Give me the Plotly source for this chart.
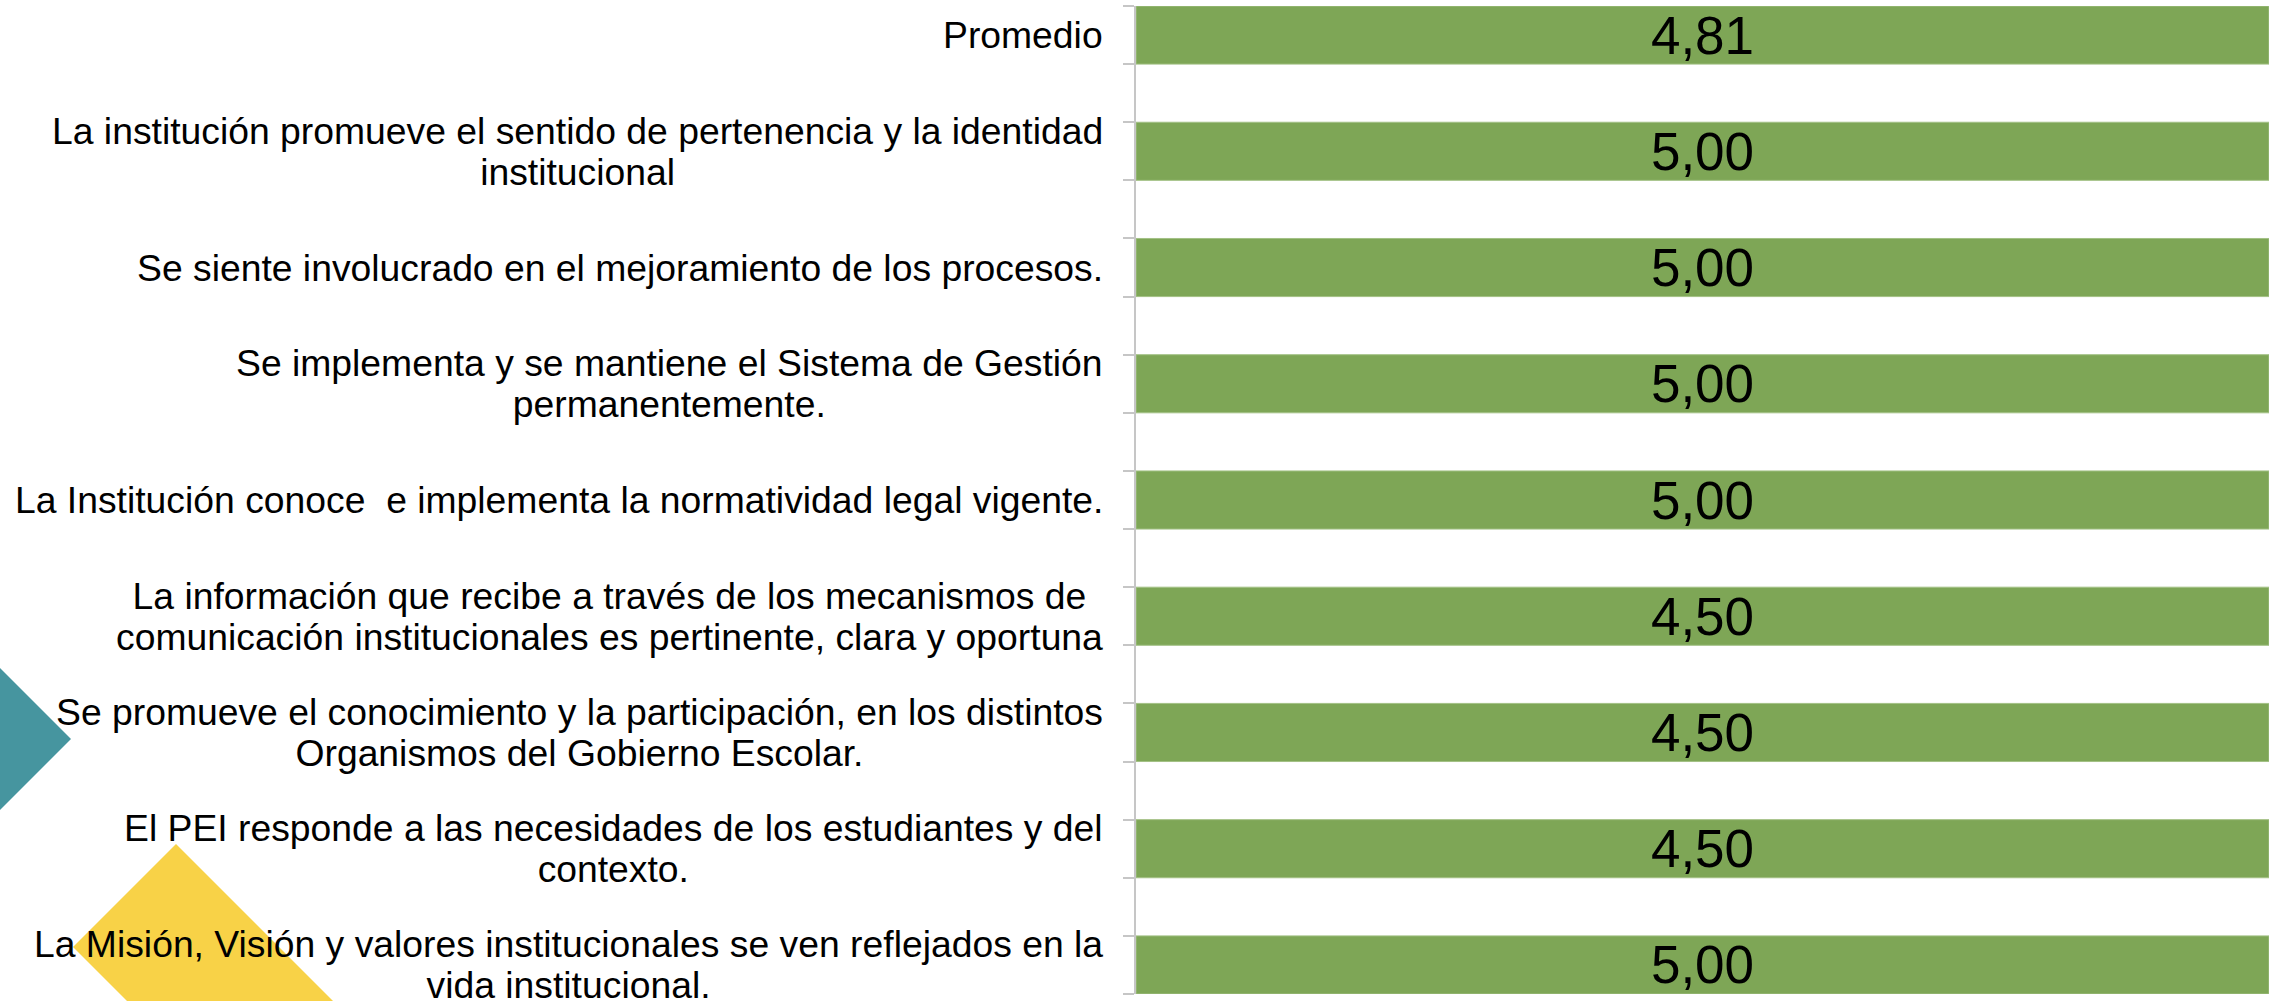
import plotly.graph_objects as go

# ---- data (top to bottom) ----
categories = [
    "Promedio",
    "La institución promueve el sentido de pertenencia y la identidad<br>institucional",
    "Se siente involucrado en el mejoramiento de los procesos.",
    "Se implementa y se mantiene el Sistema de Gestión<br>permanentemente.",
    "La Institución conoce \u00a0e implementa la normatividad legal vigente.",
    "La información que recibe a través de los mecanismos de<br>comunicación institucionales es pertinente, clara y oportuna",
    "Se promueve el conocimiento y la participación, en los distintos<br>Organismos del Gobierno Escolar.",
    "El PEI responde a las necesidades de los estudiantes y del<br>contexto.",
    "La Misión, Visión y valores institucionales se ven reflejados en la<br>vida institucional.",
]
values = [4.81, 5.00, 5.00, 5.00, 5.00, 4.50, 4.50, 4.50, 5.00]
value_labels = [f"{v:.2f}".replace(".", ",") for v in values]

positions = list(range(len(categories)))

W, H = 2280, 1001
ML, MR, MT, MB = 1136, 11, 6, 7
PW, PH = W - ML - MR, H - MT - MB

BAR_COLOR = "#7EA656"
AXIS_COLOR = "#C6C6C6"
FONT = "Liberation Sans, Arial, sans-serif"

fig = go.Figure()
fig.add_trace(go.Bar(
    y=positions,
    x=values,
    orientation="h",
    width=0.5,
    marker=dict(color=BAR_COLOR, line=dict(color="#A3C185", width=1)),
    text=value_labels,
    textposition="inside",
    insidetextanchor="middle",
    textangle=0,
    constraintext="none",
    textfont=dict(family=FONT, size=53, color="#000000"),
    hoverinfo="skip",
))

# category labels (centered multi-line, right anchored)
annotations = []
for p, c in zip(positions, categories):
    annotations.append(dict(
        x=0, xref="paper", y=p, yref="y",
        xanchor="right", yanchor="middle", xshift=-31,
        align="center", showarrow=False,
        text=f'<span style="font-size:37.3px">{c}</span>',
        font=dict(family=FONT, size=31.5, color="#000000"),
    ))


def px(xp, yp):
    return (xp - ML) / PW, (H - MB - yp) / PH


def poly(points):
    pts = [px(a, b) for a, b in points]
    d = "M " + " L ".join(f"{a:.5f},{b:.5f}" for a, b in pts) + " Z"
    return d


shapes = [
    dict(type="path", xref="paper", yref="paper", layer="below",
         path=poly([(-71, 739), (0, 668), (71, 739), (0, 810)]),
         fillcolor="#46959F", line=dict(width=0)),
    dict(type="path", xref="paper", yref="paper", layer="below",
         path=poly([(176, 844), (73, 947), (373, 1247), (476, 1144)]),
         fillcolor="#F8D247", line=dict(width=0)),
]

fig.update_layout(
    width=W, height=H,
    margin=dict(l=ML, r=MR, t=MT, b=MB, autoexpand=False),
    paper_bgcolor="#FFFFFF", plot_bgcolor="rgba(0,0,0,0)",
    barnorm="percent",
    showlegend=False,
    uniformtext=dict(minsize=53, mode="show"),
    annotations=annotations,
    shapes=shapes,
    xaxis=dict(range=[0, 100], visible=False, fixedrange=True),
    yaxis=dict(
        range=[len(categories) - 0.75, -0.25],
        tickmode="array",
        tickvals=[-0.25 + 0.5 * k for k in range(2 * len(categories) + 1)],
        showticklabels=False,
        ticks="outside", ticklen=11, tickwidth=2, tickcolor=AXIS_COLOR,
        showline=True, linecolor=AXIS_COLOR, linewidth=2,
        showgrid=False, zeroline=False, automargin=False, fixedrange=True,
    ),
)

fig.write_html(
    "out.html",
    config={"displayModeBar": False},
    post_script="document.body.style.margin='0';document.body.style.overflow='hidden';",
)
